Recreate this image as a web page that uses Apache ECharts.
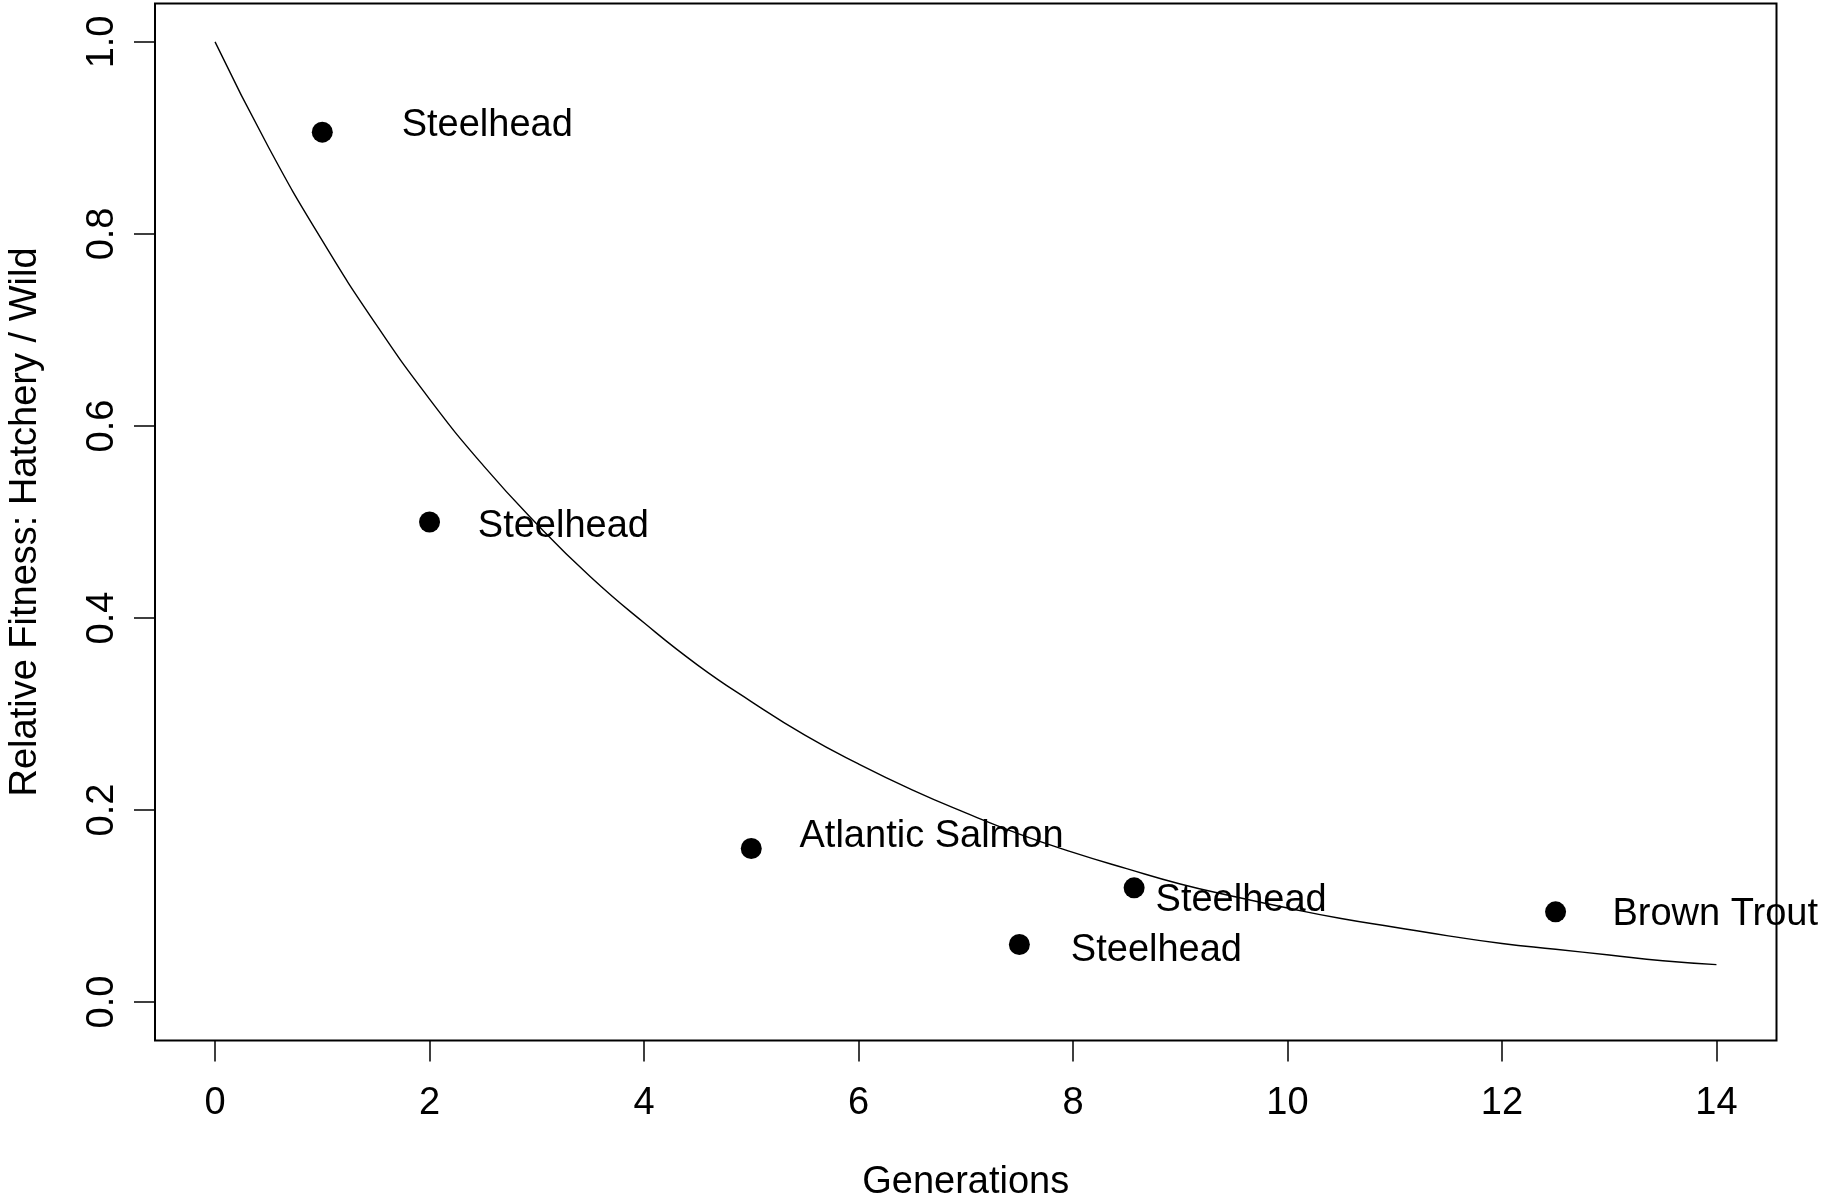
<!DOCTYPE html>
<html>
<head>
<meta charset="utf-8">
<title>Relative Fitness vs Generations</title>
<script src="https://cdn.jsdelivr.net/npm/echarts@6/dist/echarts.min.js"></script>
<style>
  html, body { margin: 0; padding: 0; background: #ffffff; }
  #chart { width: 1830px; height: 1196px; }
</style>
</head>
<body>
<div id="chart"></div>
<script>
// Observed studies: generations in hatchery vs. relative fitness
const studyNames = ['Steelhead', 'Steelhead', 'Atlantic Salmon', 'Steelhead', 'Steelhead', 'Brown Trout'];
const generations = [1, 2, 5, 7.5, 8.57, 12.5];
const relFitness = [0.906, 0.50, 0.16, 0.06, 0.119, 0.094];

// Where each study name is written (data coordinates, left edge / middle)
const labelX = [1.74, 2.45, 5.45, 7.98, 8.77, 13.03];
const labelY = [0.913, 0.495, 0.172, 0.054, 0.106, 0.091];

// Decline curve sampled every half generation
const curveX = [0, 0.5, 1, 1.5, 2, 2.5, 3, 3.5, 4, 4.5, 5, 5.5, 6, 6.5, 7,
                7.5, 8, 8.5, 9, 9.5, 10, 10.5, 11, 11.5, 12, 12.5, 13, 13.5, 14];
const curveY = [1.000, 0.890, 0.793, 0.706, 0.628, 0.559, 0.498, 0.443, 0.395, 0.351,
                0.313, 0.278, 0.248, 0.221, 0.197, 0.175, 0.156, 0.139, 0.123, 0.110,
                0.098, 0.087, 0.078, 0.069, 0.061, 0.055, 0.049, 0.043, 0.039];

// Axis ticks
const xTicks = [0, 2, 4, 6, 8, 10, 12, 14];
const yTicks = [0, 0.2, 0.4, 0.6, 0.8, 1.0];

const FONT = '"Liberation Sans", Arial, Helvetica, sans-serif';
const FS = 38;

const chart = echarts.init(document.getElementById('chart'), null, { renderer: 'canvas' });

const option = {
  backgroundColor: '#ffffff',
  animation: false,
  textStyle: { fontFamily: FONT, color: '#000' },
  grid: {
    left: 155, top: 3.5, width: 1621.5, height: 1037,
    containLabel: false,
    outerBoundsMode: 'none',
    show: true, borderColor: '#000', borderWidth: 2, backgroundColor: 'transparent'
  },
  xAxis: {
    type: 'value',
    min: -0.56, max: 14.56,
    name: 'Generations',
    nameLocation: 'middle',
    nameGap: 123,
    nameTextStyle: { fontSize: FS, fontFamily: FONT, color: '#000' },
    axisLine: { show: false, onZero: false },
    splitLine: { show: false },
    axisTick: {
      show: true, length: 21, customValues: xTicks,
      lineStyle: { color: '#000', width: 1.5 }
    },
    axisLabel: {
      show: true, customValues: xTicks, margin: 44,
      fontSize: FS, fontFamily: FONT, color: '#000',
      formatter: v => String(v)
    }
  },
  yAxis: {
    type: 'value',
    min: -0.04, max: 1.04,
    name: 'Relative Fitness: Hatchery / Wild',
    nameLocation: 'middle',
    nameGap: 110,
    nameTextStyle: { fontSize: FS, fontFamily: FONT, color: '#000' },
    axisLine: { show: false, onZero: false },
    splitLine: { show: false },
    axisTick: {
      show: true, length: 21, customValues: yTicks,
      lineStyle: { color: '#000', width: 1.5 }
    },
    axisLabel: {
      show: true, customValues: yTicks, margin: 33, rotate: 90,
      fontSize: FS, fontFamily: FONT, color: '#000',
      formatter: v => v.toFixed(1)
    }
  },
  series: [
    {
      name: 'curve',
      type: 'line',
      data: curveX.map((x, i) => [x, curveY[i]]),
      smooth: 0.5,
      showSymbol: false,
      symbol: 'none',
      lineStyle: { color: '#000', width: 1.4 },
      silent: true,
      z: 2
    },
    {
      name: 'studies',
      type: 'scatter',
      data: generations.map((x, i) => [x, relFitness[i]]),
      symbol: 'circle',
      symbolSize: 21,
      itemStyle: { color: '#000', opacity: 1 },
      silent: true,
      z: 3
    },
    {
      name: 'names',
      type: 'scatter',
      data: labelX.map((x, i) => ({ value: [x, labelY[i]], name: studyNames[i] })),
      symbol: 'circle',
      symbolSize: 0,
      itemStyle: { color: '#000', opacity: 1 },
      label: {
        show: true,
        position: 'right',
        distance: 0,
        formatter: '{b}',
        fontSize: FS,
        fontFamily: FONT,
        color: '#000',
        opacity: 1,
        align: 'left',
        verticalAlign: 'middle'
      },
      silent: true,
      z: 4
    }
  ]
};

chart.setOption(option);
</script>
</body>
</html>
